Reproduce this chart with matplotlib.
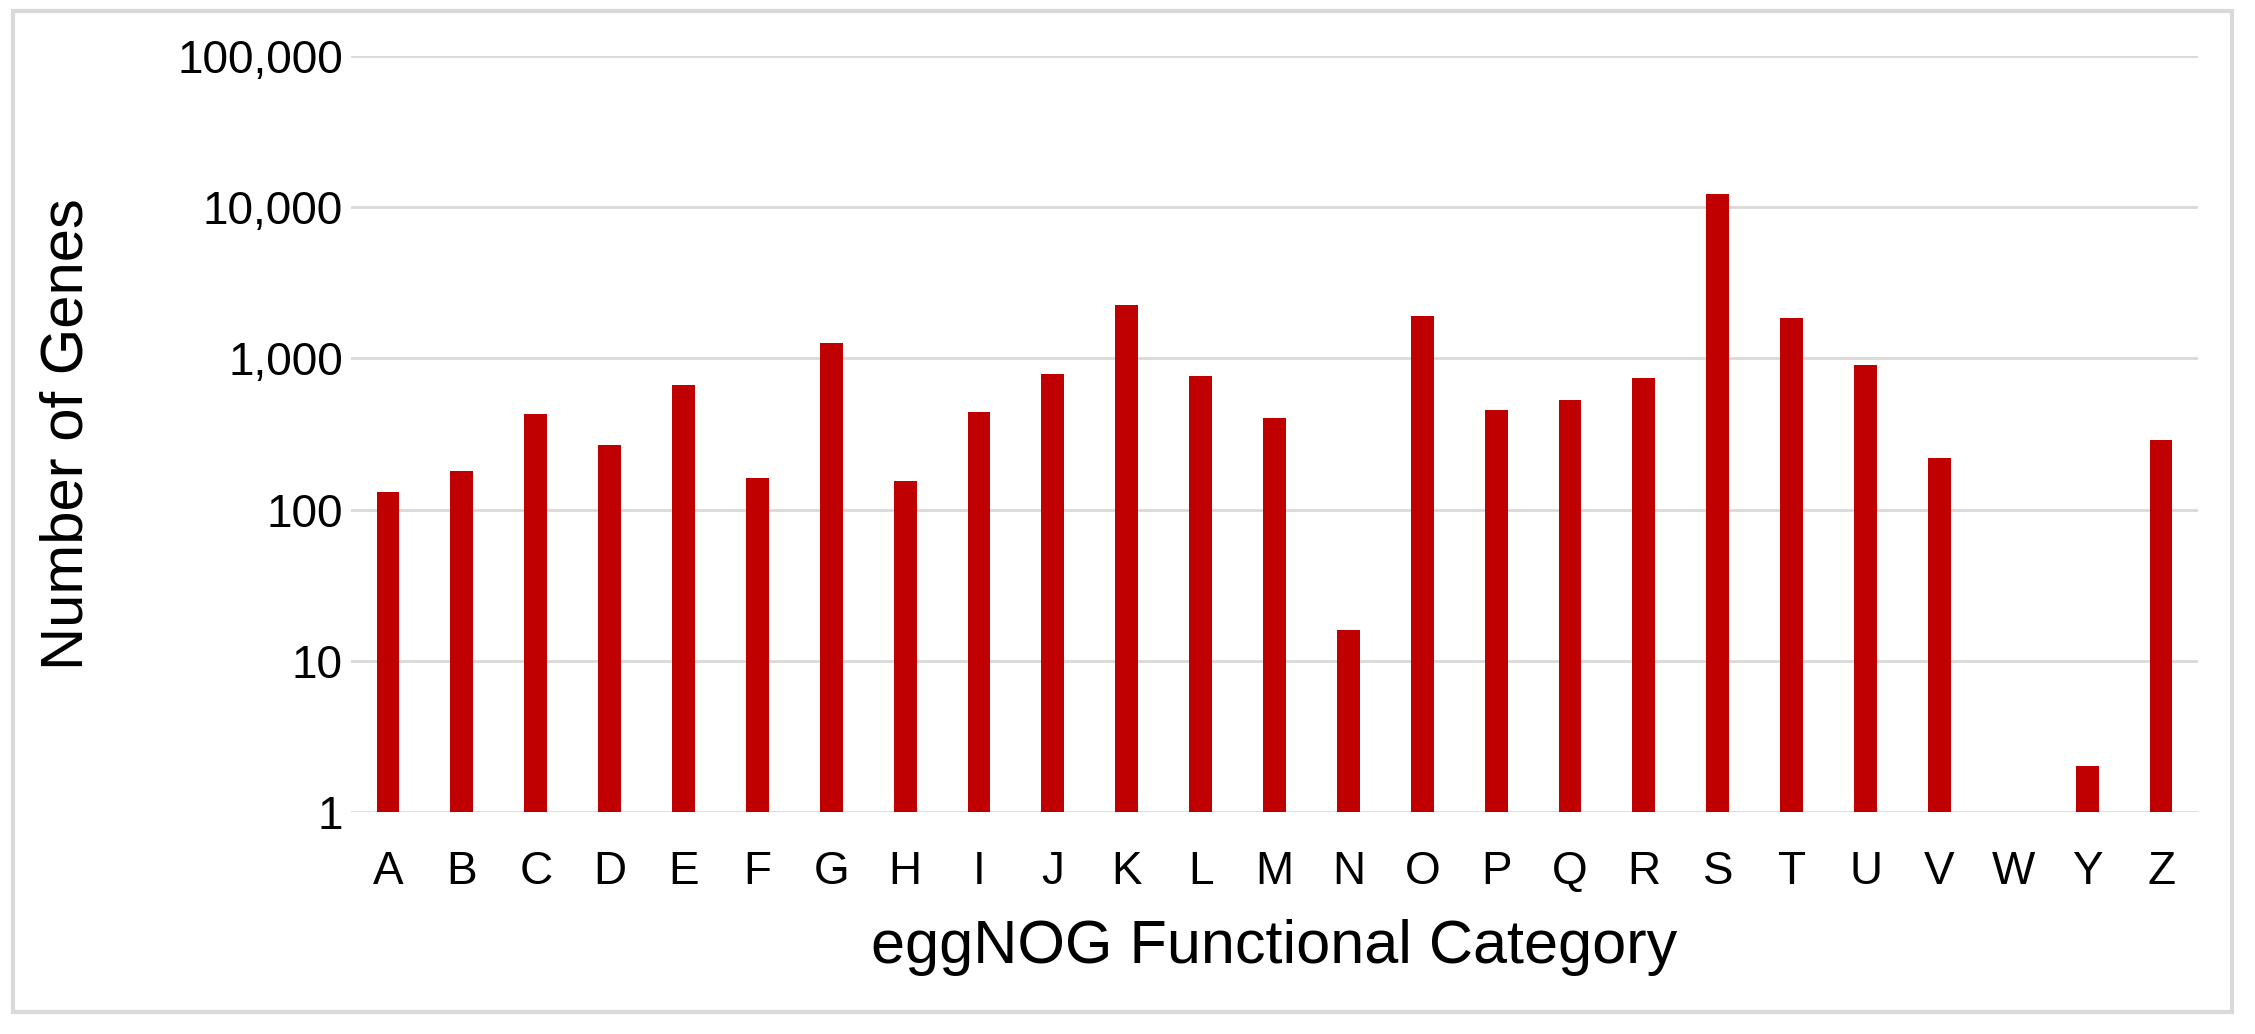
import matplotlib
matplotlib.use("Agg")
from matplotlib import pyplot as plt
from matplotlib.patches import Rectangle
from matplotlib.ticker import FixedLocator, FuncFormatter

# eggNOG functional categories and gene counts
categories = ["A", "B", "C", "D", "E", "F", "G", "H", "I", "J", "K", "L", "M",
              "N", "O", "P", "Q", "R", "S", "T", "U", "V", "W", "Y", "Z"]
gene_counts = [130, 181, 427, 267, 667, 163, 1265, 154, 439, 787, 2249, 760, 405,
               16, 1898, 454, 531, 745, 12240, 1860, 901, 220, 0, 2, 290]
y_ticks = [1, 10, 100, 1000, 10000, 100000]

plt.rcParams['font.family'] = ['Liberation Sans', 'DejaVu Sans']

fig = plt.figure(figsize=(22.55, 10.34), dpi=100)
ax = fig.add_axes([0.1557, 0.2147, 0.819, 0.7311])

x = list(range(len(categories)))
heights = [v if v > 0 else float('nan') for v in gene_counts]
ax.bar(x, heights, width=0.31, color="#C00000", zorder=3)

ax.set_yscale("log")
ax.set_ylim(1, 100000)
ax.set_xlim(-0.5, len(categories) - 0.5)
ax.yaxis.set_major_locator(FixedLocator(y_ticks))
ax.yaxis.set_minor_locator(FixedLocator([]))
ax.yaxis.set_major_formatter(FuncFormatter(lambda v, p: f"{int(v):,}"))
ax.set_xticks(x)
ax.set_xticklabels(categories)

ax.grid(axis="y", color="#d9d9d9", linewidth=2, zorder=0)
for s in ax.spines.values():
    s.set_visible(False)
ax.tick_params(axis="both", length=0, labelsize=33, colors="#000000")
ax.tick_params(axis="y", pad=6)
ax.tick_params(axis="x", pad=27)

ax.set_ylabel("Number of Genes", fontsize=43)
ax.yaxis.set_label_coords(-0.139, 0.5)
ax.set_xlabel("eggNOG Functional Category", fontsize=44)
ax.xaxis.set_label_coords(0.5, -0.141)

# light grey border around the whole chart
fig.patches.append(Rectangle((13 / 2255, 1 - 1012 / 1034), (2232 - 13) / 2255, (1012 - 11) / 1034,
                             transform=fig.transFigure, fill=False,
                             edgecolor="#d9d9d9", linewidth=3))

plt.savefig("out.png", dpi=100)
